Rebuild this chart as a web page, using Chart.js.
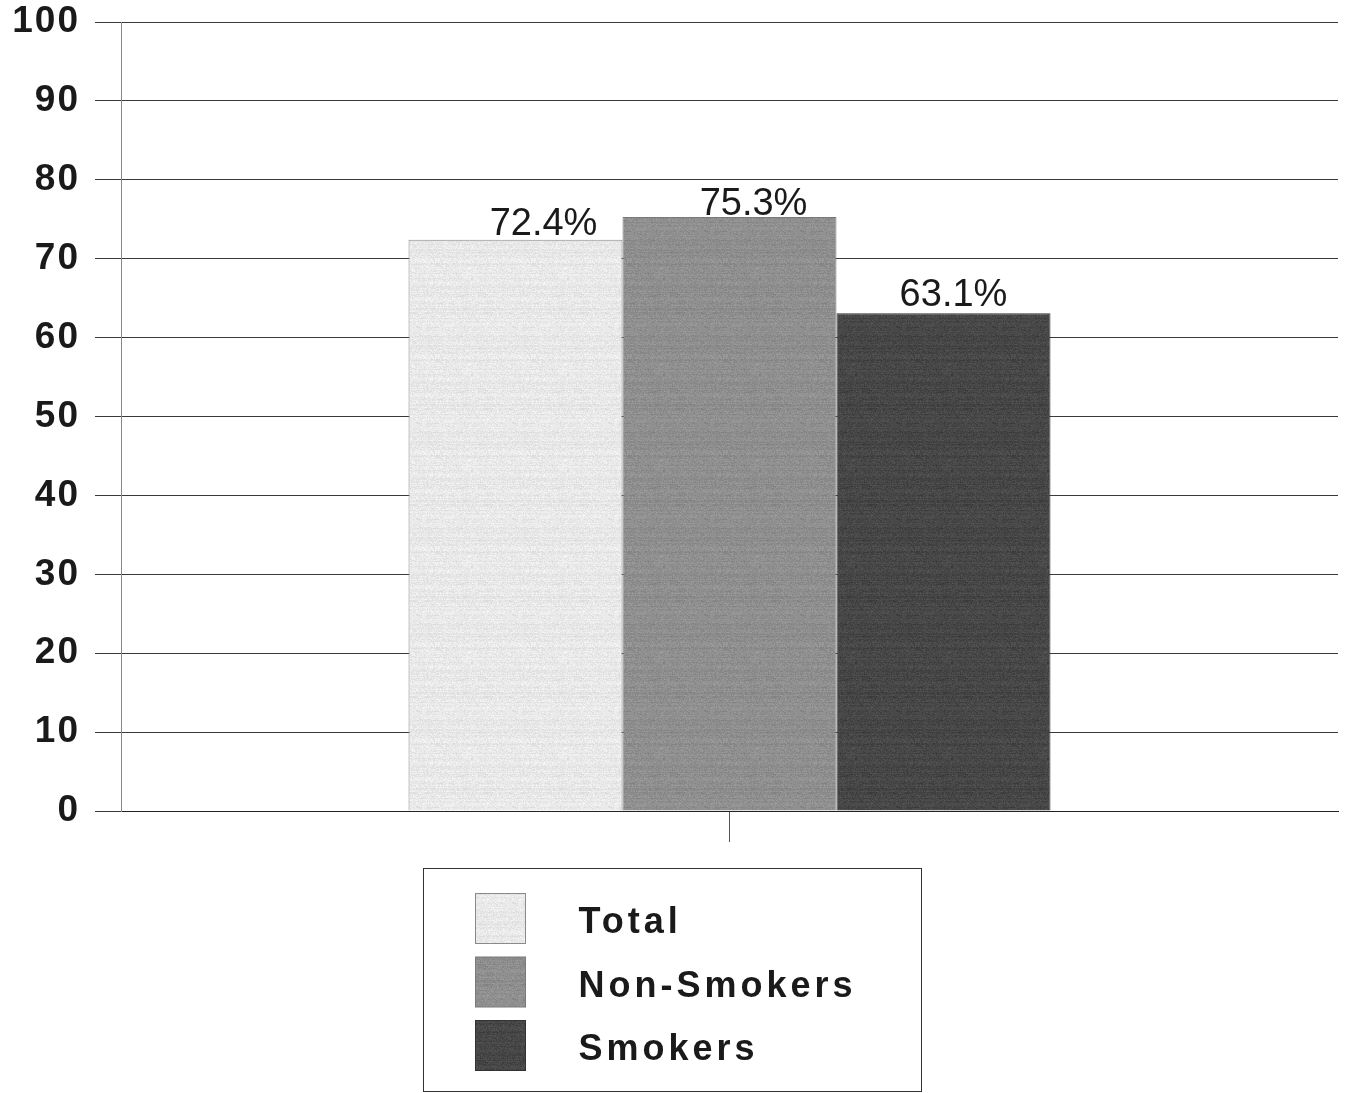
<!DOCTYPE html>
<html>
<head>
<meta charset="utf-8">
<title>Total, Non-Smokers and Smokers</title>
<script src="https://cdn.jsdelivr.net/npm/chart.js@4/dist/chart.umd.min.js"></script>
<style>
  html, body { margin: 0; padding: 0; background: #ffffff; }
  #wrap { width: 1348px; height: 1093px; position: relative; }
</style>
</head>
<body>
<div id="wrap"><canvas id="chart"></canvas></div>
<script>
// ---- data ----
const categories = [''];
const seriesNames = ['Total', 'Non-Smokers', 'Smokers'];
const totalValues = [72.4];
const nonSmokerValues = [75.3];
const smokerValues = [63.1];
const yTickValues = [0, 10, 20, 30, 40, 50, 60, 70, 80, 90, 100];

// ---- styling ----
const seriesBaseGray = [232, 142, 70];
const seriesBorders = ['#8a8a8a', '#7a7a7a', '#333333'];
// nudges of each value label relative to the top centre of its bar
const labelShiftX = [28, 24, 10];
const labelGap = [5, 2, 7];
const FONT = '"Liberation Sans", Arial, Helvetica, sans-serif';

const seriesValues = [totalValues, nonSmokerValues, smokerValues];

// Grainy halftone-like fill, built from a fixed hash so it is identical on every load
function grainPattern(base) {
  const size = 96;
  const c = document.createElement('canvas');
  c.width = size; c.height = size;
  const g = c.getContext('2d');
  const img = g.createImageData(size, size);
  const hash = (x, y) => {
    const s = Math.sin(x * 12.9898 + y * 78.233) * 43758.5453;
    return s - Math.floor(s);
  };
  for (let y = 0; y < size; y++) {
    const rowShift = (hash(3, y) - 0.5) * 10;
    for (let x = 0; x < size; x++) {
      const v = Math.max(0, Math.min(255, base + rowShift + (hash(x, y) - 0.5) * 22));
      const k = (y * size + x) * 4;
      img.data[k] = img.data[k + 1] = img.data[k + 2] = v;
      img.data[k + 3] = 255;
    }
  }
  g.putImageData(img, 0, 0);
  return document.createElement('canvas').getContext('2d').createPattern(c, 'repeat');
}
const seriesFills = seriesBaseGray.map(grainPattern);

// Canvas letter spacing used for the bold axis text
const spacingPlugin = {
  id: 'letterSpacing',
  beforeUpdate(chart) { chart.ctx.letterSpacing = '2px'; },
  beforeDraw(chart) { chart.ctx.letterSpacing = '2px'; }
};

// Percent labels above every bar
const valueLabelPlugin = {
  id: 'valueLabels',
  afterDatasetsDraw(chart) {
    const ctx = chart.ctx;
    ctx.save();
    ctx.letterSpacing = '0px';
    ctx.font = 'normal 38px ' + FONT;
    ctx.fillStyle = '#1a1a1a';
    ctx.textAlign = 'center';
    ctx.textBaseline = 'alphabetic';
    chart.data.datasets.forEach((ds, di) => {
      const meta = chart.getDatasetMeta(di);
      meta.data.forEach((bar, i) => {
        const v = ds.data[i];
        ctx.fillText(v.toFixed(1) + '%', bar.x + labelShiftX[di], bar.y - labelGap[di]);
      });
    });
    ctx.restore();
  }
};

// Boxed legend stacked below the plot
const legendLayout = { width: 498, gapTop: 57, height: 223, swatch: 50, swatchLeft: 52, textLeft: 155, firstRow: 25, rowStep: 63.5 };
const boxLegendPlugin = {
  id: 'boxLegend',
  afterDraw(chart) {
    const ctx = chart.ctx;
    const L = legendLayout;
    const left = Math.round(chart.width / 2 - L.width / 2 - 2) + 0.5;
    const top = Math.round(chart.chartArea.bottom + L.gapTop) + 0.5;
    ctx.save();
    ctx.strokeStyle = '#333333';
    ctx.lineWidth = 1;
    ctx.strokeRect(left, top, L.width, L.height);
    ctx.font = 'bold 36px ' + FONT;
    ctx.letterSpacing = '4px';
    ctx.textAlign = 'left';
    ctx.textBaseline = 'middle';
    chart.data.datasets.forEach((ds, i) => {
      const sy = top + L.firstRow + i * L.rowStep;
      const sx = left + L.swatchLeft;
      ctx.fillStyle = ds.backgroundColor;
      ctx.fillRect(sx, sy, L.swatch, L.swatch);
      ctx.strokeStyle = ds.borderColor;
      ctx.strokeRect(sx, sy, L.swatch, L.swatch);
      ctx.fillStyle = '#1a1a1a';
      ctx.fillText(ds.label, left + L.textLeft, sy + L.swatch / 2 + 5);
    });
    ctx.restore();
  }
};

const chart = new Chart(document.getElementById('chart'), {
  type: 'bar',
  data: {
    labels: categories,
    datasets: seriesNames.map((name, i) => ({
      label: name,
      data: seriesValues[i],
      backgroundColor: seriesFills[i],
      borderColor: seriesBorders[i],
      borderWidth: 1,
      categoryPercentage: 0.5275,
      barPercentage: 1.0
    }))
  },
  options: {
    responsive: true,
    maintainAspectRatio: false,
    animation: false,
    layout: { padding: { left: 0, right: 10, top: 22, bottom: 251 } },
    plugins: {
      legend: { display: false },
      tooltip: { enabled: false }
    },
    scales: {
      x: {
        ticks: { display: false },
        grid: {
          display: true,
          drawOnChartArea: false,
          drawTicks: true,
          tickLength: 31,
          offset: false,
          color: '#555555'
        },
        border: { display: true, color: '#222222', width: 1 }
      },
      y: {
        min: 0,
        max: 100,
        afterBuildTicks(scale) { scale.ticks = yTickValues.map(v => ({ value: v })); },
        afterFit(scale) {
          scale.width = 121;
          scale.paddingTop = 0;
          scale.paddingBottom = 0;
        },
        ticks: {
          stepSize: 10,
          padding: 15,
          color: '#1a1a1a',
          font: { family: FONT, size: 37, weight: 'bold' }
        },
        grid: { color: '#3a3a3a', lineWidth: 1, tickLength: 26, drawTicks: true },
        border: { display: true, color: '#8a8a8a', width: 1 }
      }
    }
  },
  plugins: [spacingPlugin, valueLabelPlugin, boxLegendPlugin]
});
</script>
</body>
</html>
